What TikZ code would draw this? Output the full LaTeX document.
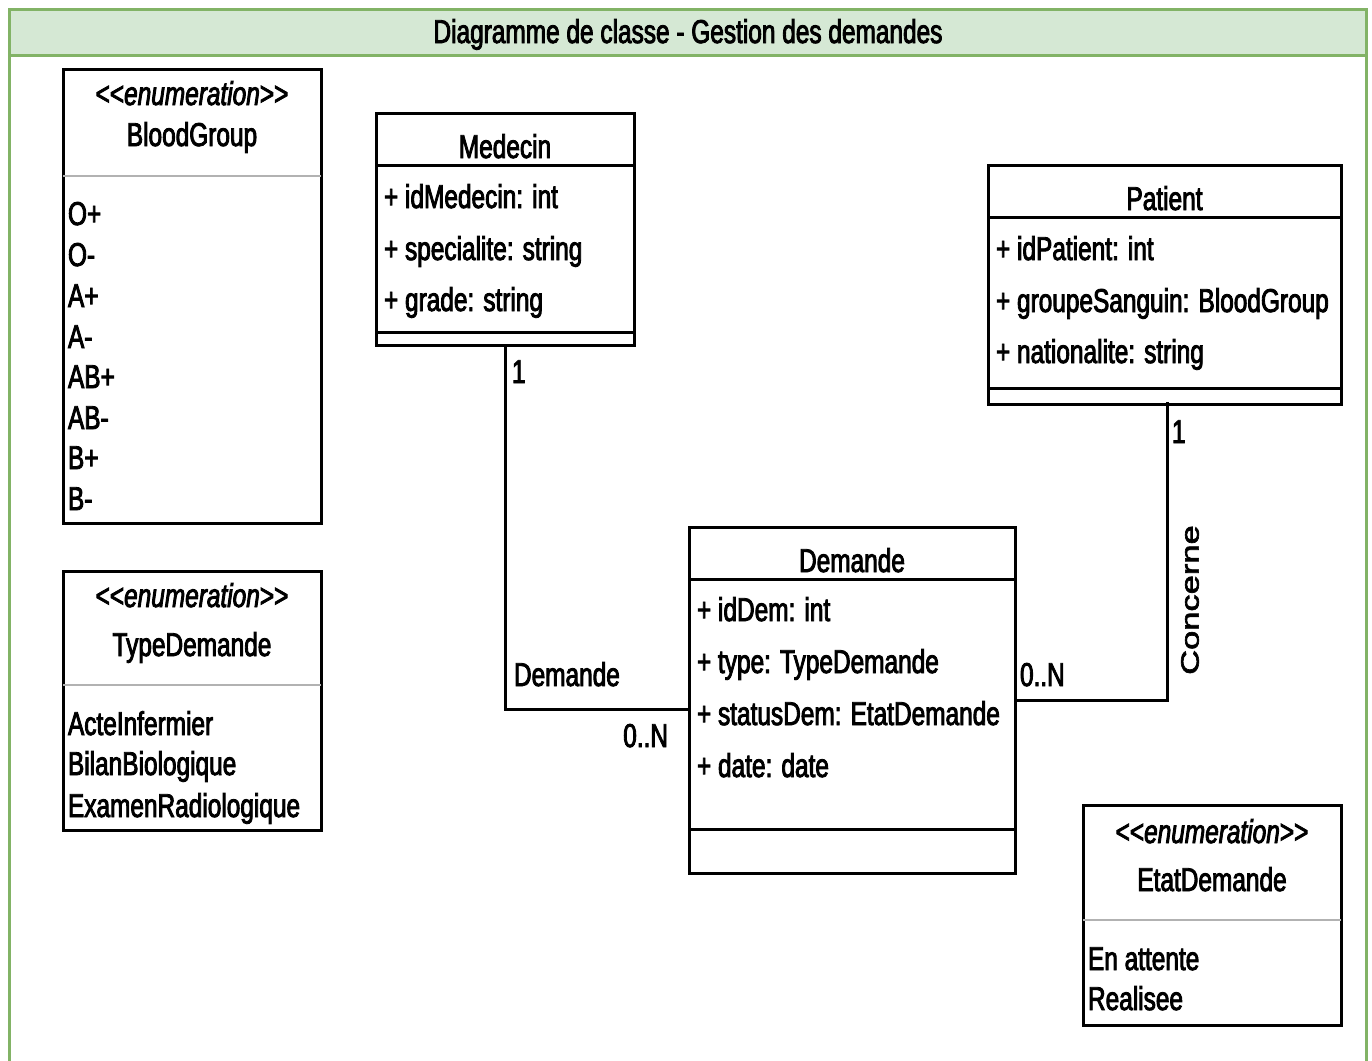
\documentclass[tikz,border=0pt]{standalone}
\usepackage{fontspec}
\setmainfont{Liberation Sans}[FakeStretch=0.74, FakeBold=2.6]
\newfontfamily\widefont{Liberation Sans}[FakeStretch=1.38, FakeBold=2.6]
\definecolor{frameGreen}{HTML}{82B366}
\definecolor{titleFill}{HTML}{D5E8D4}
\newcommand{\stereo}[1]{<\kern0pt<\textit{#1}>\kern0pt>}

\begin{document}
\begin{tikzpicture}[x=1pt,y=-1pt,
  every node/.style={font=\fontsize{33}{36}\selectfont, inner sep=0pt, outer sep=0pt},
  umlbox/.style={draw=black, line width=3pt, fill=white, rectangle},
  sepline/.style={line width=3pt},
  enumsep/.style={line width=2pt, draw=black!30},
  txt/.style={anchor=base west},
  ctxt/.style={anchor=base},
  assoc/.style={line width=3pt},
  vlabel/.style={font=\widefont\fontsize{25}{28}\selectfont, rotate=90},
]
\useasboundingbox (0,0) rectangle (1372,1060);
\fill[white] (0,0) rectangle (1372,1060);

% outer frame with title bar
\draw[frameGreen, line width=3pt, fill=titleFill] (9,9) rectangle (1366,55);
\draw[frameGreen, line width=3pt] (9,55) -- (9,1064) (1366,55) -- (1366,1064);
\node[ctxt] (title) at (688,43) {Diagramme de classe - Gestion des demandes};

% ---------- BloodGroup enumeration ----------
\node[umlbox, minimum width=258pt, minimum height=454pt] (blood) at (192,296) {};
\node[ctxt] (bloodS) at (192,105) {\stereo{enumeration}};
\node[ctxt] (bloodN) at (192,146) {BloodGroup};
\draw[enumsep] (blood.west |- 0,176) -- (blood.east |- 0,176);
\node[txt] (b1) at (68,225) {O+};
\node[txt] (b2) at (68,266) {O-};
\node[txt] (b3) at (68,307) {A+};
\node[txt] (b4) at (68,348) {A-};
\node[txt] (b5) at (68,388) {AB+};
\node[txt] (b6) at (68,429) {AB-};
\node[txt] (b7) at (68,469) {B+};
\node[txt] (b8) at (68,510) {B-};

% ---------- TypeDemande enumeration ----------
\node[umlbox, minimum width=258pt, minimum height=259pt] (typed) at (192,700.5) {};
\node[ctxt] (typeS) at (192,607) {\stereo{enumeration}};
\node[ctxt] (typeN) at (192,656) {TypeDemande};
\draw[enumsep] (typed.west |- 0,685) -- (typed.east |- 0,685);
\node[txt] (t1) at (68,735) {ActeInfermier};
\node[txt] (t2) at (68,775) {BilanBiologique};
\node[txt] (t3) at (68,817) {ExamenRadiologique};

% ---------- Medecin ----------
\node[umlbox, minimum width=258pt, minimum height=232pt] (medecin) at (505,229) {};
\node[ctxt] (medN) at (505,158) {Medecin};
\draw[sepline] (medecin.west |- 0,165) -- (medecin.east |- 0,165);
\node[txt] (m1) at (384,208) {+ idMedecin: int};
\node[txt] (m2) at (384,260) {+ specialite: string};
\node[txt] (m3) at (384,311) {+ grade: string};
\draw[sepline] (medecin.west |- 0,332) -- (medecin.east |- 0,332);

% ---------- Patient ----------
\node[umlbox, minimum width=353pt, minimum height=239pt] (patient) at (1164.5,284.5) {};
\node[ctxt] (patN) at (1164.5,210) {Patient};
\draw[sepline] (patient.west |- 0,217) -- (patient.east |- 0,217);
\node[txt] (p1) at (996,260) {+ idPatient: int};
\node[txt] (p2) at (996,312) {+ groupeSanguin: BloodGroup};
\node[txt] (p3) at (996,363) {+ nationalite: string};
\draw[sepline] (patient.west |- 0,388) -- (patient.east |- 0,388);

% ---------- Demande ----------
\node[umlbox, minimum width=326pt, minimum height=346pt] (demande) at (852,700) {};
\node[ctxt] (demN) at (852,572) {Demande};
\draw[sepline] (demande.west |- 0,579) -- (demande.east |- 0,579);
\node[txt] (d1) at (697,621) {+ idDem: int};
\node[txt] (d2) at (697,673) {+ type: TypeDemande};
\node[txt] (d3) at (697,725) {+ statusDem: EtatDemande};
\node[txt] (d4) at (697,777) {+ date: date};
\draw[sepline] (demande.west |- 0,829) -- (demande.east |- 0,829);

% ---------- EtatDemande enumeration ----------
\node[umlbox, minimum width=258pt, minimum height=220pt] (etat) at (1212,915) {};
\node[ctxt] (etatS) at (1212,843) {\stereo{enumeration}};
\node[ctxt] (etatN) at (1212,891) {EtatDemande};
\draw[enumsep] (etat.west |- 0,920) -- (etat.east |- 0,920);
\node[txt] (e1) at (1088,970) {En attente};
\node[txt] (e2) at (1088,1010) {Realisee};

% ---------- associations ----------
\coordinate (medDem) at (689,709);
\coordinate (patOut) at (1167,402);
\draw[assoc] (medecin.south) -- (medecin.south |- medDem) -- (medDem);
\draw[assoc] (patOut) -- (patOut |- demande.east) -- (demande.east);

\node[txt] (mulMed) at (512,383) {1};
\node[txt] (assocMed) at (514,686) {Demande};
\node[anchor=base east] (mulDem1) at (668,747) {0..N};
\node[txt] (mulPat) at (1172,443) {1};
\node[txt] (mulDem2) at (1020,686) {0..N};
\node[vlabel] (assocPat) at (1190,600) {Concerne};
\end{tikzpicture}
\end{document}
